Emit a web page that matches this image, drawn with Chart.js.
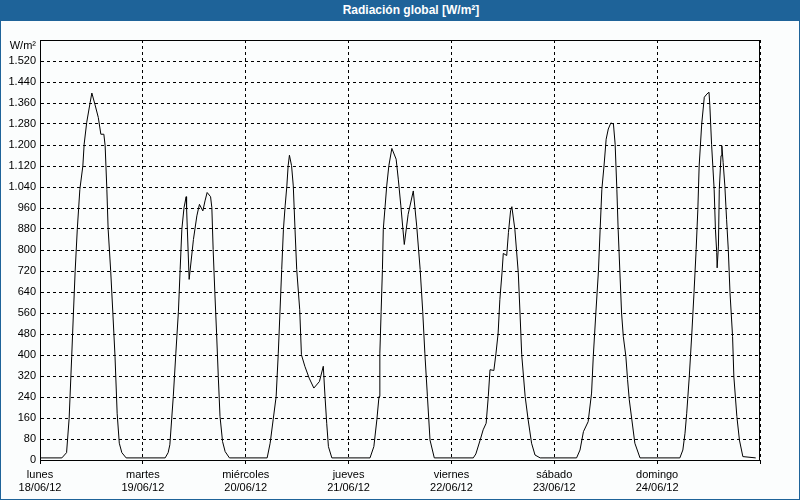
<!DOCTYPE html>
<html>
<head>
<meta charset="utf-8">
<script src="https://cdn.jsdelivr.net/npm/chart.js@4.4.0/dist/chart.umd.min.js"></script>
<style>
html, body { margin: 0; padding: 0; background: #fbfdfd; }
#wrap { position: relative; width: 800px; height: 500px; background: #fbfdfd; overflow: hidden; }
#title { position: absolute; left: 0; top: 0; width: 800px; height: 21px; box-sizing: border-box; padding-left: 22px;
  background: #1e6399; color: #fff; font: bold 12px "Liberation Sans", Arial, sans-serif; line-height: 21px; text-align: center; }
#frame { position: absolute; left: 0; top: 0; width: 800px; height: 500px; box-sizing: border-box; border: 1px solid #1e6399; pointer-events: none; }
canvas { position: absolute; left: 0; top: 0; }
</style>
</head>
<body>
<div id="wrap">
  <canvas id="chart" width="800" height="500"></canvas>
  <div id="title">Radiación global [W/m²]</div>
  <div id="frame"></div>
</div>
<script>
// horas desde el lunes 18/06/12 00:00 y radiación (W/m²)
const hours = [
  0, 5.1, 6.2, 6.8, 7.4, 7.8, 8.2, 8.7, 9.3, 10.0, 10.3, 10.9, 11.7, 12.1, 12.8, 13.6, 14.2, 14.9, 15.2, 15.6, 15.9, 16.5, 17.0, 17.5, 18.0, 18.5, 19.1, 20.1,
  29.2, 29.9, 30.3, 31.1, 31.7, 32.3, 32.7, 33.1, 33.6, 34.1, 34.2, 34.8, 35.8, 36.6, 37.2, 38.0, 38.5, 39.0, 39.8, 40.1, 40.4, 40.8, 41.2, 41.6, 42.0, 42.6, 43.2, 44.2,
  53.0, 53.7, 54.4, 55.1, 55.6, 56.0, 56.4, 56.8, 57.2, 57.6, 57.9, 58.2, 58.7, 59.1, 59.5, 59.9, 60.6, 61.0, 61.8, 62.8, 63.9, 65.2, 66.1, 66.5, 66.9, 67.3, 68.1,
  77.0, 77.9, 78.6, 79.1, 79.3, 79.6, 79.9, 80.1, 80.5, 80.9, 81.4, 82.1, 83.1, 83.6, 84.2, 85.0, 85.9, 87.1, 87.9, 88.7, 89.3, 89.8, 90.4, 91.0, 92.0,
  101.1, 101.7, 102.7, 103.4, 104.1, 104.6, 105.0, 105.9, 106.4, 106.9, 107.3, 107.8, 108.1, 108.9, 109.3, 109.8, 110.1, 110.8, 111.6, 112.0, 112.4, 113.2, 113.9, 114.7, 115.5, 116.7,
  125.2, 126.0, 126.8, 127.9, 128.7, 129.1, 129.7, 130.3, 130.7, 131.1, 131.6, 132.1, 132.6, 133.2, 133.8, 134.2, 134.6, 134.9, 135.3, 135.7, 136.1, 136.7, 137.1, 137.5, 138.1, 138.8, 140.0,
  149.3, 150.0, 150.5, 150.9, 151.5, 152.1, 152.6, 153.1, 153.5, 153.8, 154.4, 155.0, 155.6, 156.1, 156.3, 156.7, 157.3, 157.6, 157.9, 158.0, 158.3, 158.5, 158.9, 159.1, 159.4, 159.8, 160.2, 160.6, 161.0, 161.6, 161.9, 162.6, 163.2, 164.0, 167.0
];
const radiation = [
  8, 8, 28, 159, 395, 560, 719, 879, 1031, 1120, 1203, 1286, 1362, 1398, 1356, 1305, 1241, 1241, 1197, 1031, 879, 719, 560, 395, 178, 64, 28, 8,
  8, 28, 58, 242, 407, 567, 726, 879, 961, 1003, 961, 688, 840, 930, 974, 949, 987, 1019, 1003, 961, 802, 637, 484, 318, 166, 70, 32, 8,
  8, 64, 153, 242, 407, 567, 726, 879, 968, 1044, 1121, 1161, 1121, 1044, 879, 726, 573, 401, 357, 312, 274, 299, 357, 242, 140, 51, 8,
  8, 51, 153, 242, 407, 567, 726, 879, 961, 1044, 1121, 1187, 1146, 1070, 968, 821, 936, 1025, 891, 726, 567, 407, 242, 76, 8,
  8, 23, 76, 115, 140, 242, 344, 341, 407, 484, 611, 713, 787, 779, 866, 949, 965, 879, 713, 560, 401, 242, 153, 64, 19, 8,
  8, 38, 108, 146, 255, 395, 560, 719, 879, 1031, 1120, 1222, 1261, 1284, 1280, 1203, 1031, 879, 719, 560, 471, 395, 306, 229, 153, 64, 8,
  8, 38, 102, 178, 318, 484, 637, 802, 955, 1120, 1280, 1382, 1394, 1401, 1350, 1203, 1031, 879, 790, 732, 815, 1031, 1159, 1197, 1133, 1044, 917, 802, 637, 471, 318, 166, 76, 13, 8
];
const dayNames = ['lunes', 'martes', 'miércoles', 'jueves', 'viernes', 'sábado', 'domingo'];
const dayDates = ['18/06/12', '19/06/12', '20/06/12', '21/06/12', '22/06/12', '23/06/12', '24/06/12'];
const yMax = 1600;
const yStep = 80;

const font = { family: '"Liberation Sans", Arial, sans-serif', size: 11 };

function fmt(v) {
  if (v >= 1000) return Math.floor(v / 1000) + '.' + String(v % 1000).padStart(3, '0');
  return String(v);
}

const points = hours.map((h, i) => ({ x: h, y: radiation[i] }));

const framePlugin = {
  id: 'frame',
  afterDraw(chart) {
    const { ctx, chartArea: a } = chart;
    ctx.save();
    ctx.strokeStyle = '#000';
    ctx.lineWidth = 1;
    ctx.strokeRect(a.left + 0.5, a.top + 0.5, a.right - a.left - 1, a.bottom - a.top);
    ctx.fillStyle = '#000';
    ctx.font = '11px "Liberation Sans", Arial, sans-serif';
    ctx.textAlign = 'right';
    ctx.textBaseline = 'middle';
    ctx.fillText('W/m²', 36, 46);
    ctx.restore();
  }
};

new Chart(document.getElementById('chart'), {
  type: 'line',
  data: {
    datasets: [{
      data: points,
      borderColor: '#000',
      borderWidth: 1,
      pointRadius: 0,
      tension: 0,
      fill: false
    }]
  },
  options: {
    responsive: false,
    animation: false,
    layout: { padding: { top: 40, right: 40, left: 0, bottom: 0 } },
    plugins: { legend: { display: false }, tooltip: { enabled: false } },
    scales: {
      x: {
        type: 'linear',
        min: 0,
        max: 168,
        afterBuildTicks(scale) {
          scale.ticks = [0, 24, 48, 72, 96, 120, 144, 168].map(v => ({ value: v }));
        },
        afterFit(scale) { scale.height = 40; },
        ticks: {
          autoSkip: false,
          maxRotation: 0,
          padding: 1,
          color: '#000',
          font: font,
          callback: (v) => {
            const i = Math.round(v / 24);
            return i < 7 ? [dayNames[i], dayDates[i]] : '';
          }
        },
        grid: { color: '#000', lineWidth: 1, tickLength: 7, tickBorderDash: [3, 3] },
        border: { display: true, color: '#000', dash: [3, 3] }
      },
      y: {
        min: 0,
        max: yMax,
        afterBuildTicks(scale) {
          const t = [];
          for (let v = 0; v <= yMax; v += yStep) t.push({ value: v });
          scale.ticks = t;
        },
        afterFit(scale) { scale.width = 40; },
        ticks: {
          autoSkip: false,
          padding: 4,
          color: '#000',
          font: font,
          callback: (v) => (v === yMax ? '' : fmt(v))
        },
        grid: { color: '#000', lineWidth: 1, drawTicks: false },
        border: { display: true, color: '#000', dash: [3, 3] }
      }
    }
  },
  plugins: [framePlugin]
});
</script>
</body>
</html>
